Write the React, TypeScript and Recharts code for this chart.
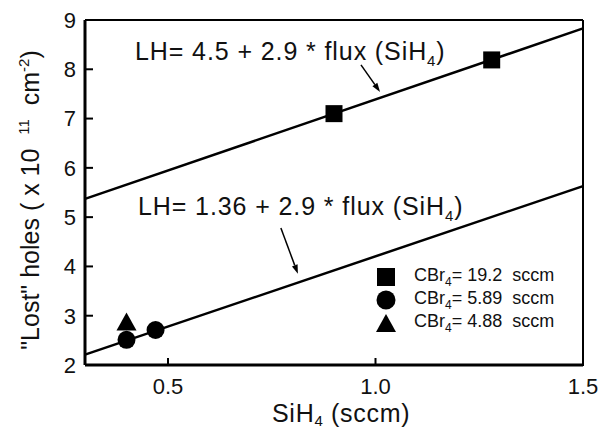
import React from "react";
import {
  ComposedChart,
  XAxis,
  YAxis,
  Scatter,
  ReferenceLine,
} from "recharts";

// measured points
const squareX = [0.9, 1.28];
const squareY = [7.1, 8.19];
const circleX = [0.4, 0.47];
const circleY = [2.51, 2.71];
const triangleX = [0.4];
const triangleY = [2.86];

// fit lines  LH = a + 2.9 * flux
const fitX = [0.3, 1.5];
const fitHigh = [5.37, 8.83];
const fitLow = [2.21, 5.63];

// annotation arrows (tail, head)
const arrowHighX = [0.965, 1.011];
const arrowHighY = [8.09, 7.54];
const arrowLowX = [0.772, 0.813];
const arrowLowY = [4.78, 3.85];

const xTicks = [0.5, 1.0, 1.5];
const yTicks = [2, 3, 4, 5, 6, 7, 8, 9];

const legendLabels = ["19.2", "5.89", "4.88"];

const FONT = "Liberation Sans, Arial, sans-serif";

const toPoints = (xs: number[], ys: number[]) =>
  xs.map((x, i) => ({ x, y: ys[i] }));

const SquareShape = (p: any) => (
  <rect x={p.cx - 8.5} y={p.cy - 8.5} width={17} height={17} fill="#000" />
);
const CircleShape = (p: any) => <circle cx={p.cx} cy={p.cy} r={9} fill="#000" />;
const TriangleShape = (p: any) => (
  <polygon
    points={`${p.cx - 10},${p.cy + 8} ${p.cx + 10},${p.cy + 8} ${p.cx},${p.cy - 10}`}
    fill="#000"
  />
);

const Arrow = (p: any) => {
  const { x1, y1, x2, y2 } = p;
  const a = Math.atan2(y2 - y1, x2 - x1);
  const L = 9;
  const w = 3;
  const bx = x2 - L * Math.cos(a);
  const by = y2 - L * Math.sin(a);
  const nx = -Math.sin(a) * w;
  const ny = Math.cos(a) * w;
  return (
    <g>
      <line x1={x1} y1={y1} x2={bx} y2={by} stroke="#000" strokeWidth={1.5} />
      <polygon
        points={`${x2},${y2} ${bx + nx},${by + ny} ${bx - nx},${by - ny}`}
        fill="#000"
      />
    </g>
  );
};

const YTick = (p: any) => {
  const { x, y, payload } = p;
  return (
    <g>
      <line x1={x + 9} y1={y} x2={x + 17} y2={y} stroke="#000" strokeWidth={2} />
      <text
        x={x}
        y={y}
        dy="0.36em"
        textAnchor="end"
        fontSize={22}
        fontFamily={FONT}
        fill="#111"
      >
        {payload.value}
      </text>
    </g>
  );
};

const XTick = (p: any) => {
  const { x, y, payload } = p;
  return (
    <g>
      <line x1={x} y1={y - 12} x2={x} y2={y - 20} stroke="#000" strokeWidth={2} />
      <text
        x={x}
        y={y}
        dy="0.71em"
        textAnchor="middle"
        fontSize={22}
        fontFamily={FONT}
        fill="#111"
      >
        {Number(payload.value).toFixed(1)}
      </text>
    </g>
  );
};

const LegendIcon = ({ kind }: { kind: number }) => (
  <svg width={22} height={22} style={{ display: "block" }}>
    {kind === 0 && <rect x={2} y={2} width={18} height={18} fill="#000" />}
    {kind === 1 && <circle cx={11} cy={11} r={9.5} fill="#000" />}
    {kind === 2 && <polygon points="1,20 21,20 11,2" fill="#000" />}
  </svg>
);

const sub = { fontSize: 15, verticalAlign: -6 } as const;
const sup = { fontSize: 15, verticalAlign: 10 } as const;

export default function App() {
  return (
    <div
      style={{
        position: "absolute",
        left: 0,
        top: 0,
        width: 603,
        height: 428,
        background: "#fff",
        fontFamily: FONT,
        overflow: "hidden",
      }}
    >
      <ComposedChart
        width={603}
        height={428}
        margin={{ top: 20, right: 20, bottom: 0, left: 0 }}
      >
        <XAxis
          type="number"
          dataKey="x"
          domain={[0.3, 1.5]}
          ticks={xTicks}
          allowDataOverflow
          height={63}
          tickSize={0}
          tickMargin={13}
          tick={<XTick />}
          axisLine={{ stroke: "#000", strokeWidth: 3 }}
          tickLine={false}
        />
        <YAxis
          type="number"
          dataKey="y"
          domain={[2, 9]}
          ticks={yTicks}
          allowDataOverflow
          width={85}
          tickSize={0}
          tickMargin={9}
          tick={<YTick />}
          axisLine={{ stroke: "#000", strokeWidth: 3 }}
          tickLine={false}
        />
        <ReferenceLine y={9} stroke="#000" strokeWidth={2} />
        <ReferenceLine x={1.5} stroke="#000" strokeWidth={2} />
        <ReferenceLine
          segment={toPoints(fitX, fitHigh)}
          stroke="#000"
          strokeWidth={2.5}
        />
        <ReferenceLine
          segment={toPoints(fitX, fitLow)}
          stroke="#000"
          strokeWidth={2.5}
        />
        <ReferenceLine segment={toPoints(arrowHighX, arrowHighY)} shape={Arrow} />
        <ReferenceLine segment={toPoints(arrowLowX, arrowLowY)} shape={Arrow} />
        <Scatter
          name="19.2"
          data={toPoints(squareX, squareY)}
          shape={SquareShape}
          isAnimationActive={false}
        />
        <Scatter
          name="5.89"
          data={toPoints(circleX, circleY)}
          shape={CircleShape}
          isAnimationActive={false}
        />
        <Scatter
          name="4.88"
          data={toPoints(triangleX, triangleY)}
          shape={TriangleShape}
          isAnimationActive={false}
        />
      </ComposedChart>

      {/* legend */}
      <div
        style={{
          position: "absolute",
          left: 375,
          top: 265,
          fontSize: 18,
          color: "#111",
        }}
      >
        {legendLabels.map((v, i) => (
          <div
            key={v}
            style={{ display: "flex", alignItems: "center", height: 23 }}
          >
            <LegendIcon kind={i} />
            <span style={{ marginLeft: 17, whiteSpace: "pre" }}>
              CBr<span style={{ fontSize: 12, verticalAlign: -5 }}>4</span>= {v}  sccm
            </span>
          </div>
        ))}
      </div>

      {/* equations */}
      <div
        style={{
          position: "absolute",
          left: 135,
          top: 37,
          fontSize: 25,
          letterSpacing: 0.9,
          whiteSpace: "pre",
          color: "#111",
        }}
      >
        LH= 4.5 + 2.9 * flux (SiH<span style={sub}>4</span>)
      </div>
      <div
        style={{
          position: "absolute",
          left: 138,
          top: 192,
          fontSize: 25,
          letterSpacing: 0.9,
          whiteSpace: "pre",
          color: "#111",
        }}
      >
        LH= 1.36 + 2.9 * flux (SiH<span style={sub}>4</span>)
      </div>

      {/* axis titles */}
      <div
        style={{
          position: "absolute",
          left: 272,
          top: 401,
          fontSize: 25,
          letterSpacing: 0.7,
          lineHeight: "25px",
          whiteSpace: "pre",
          color: "#111",
        }}
      >
        SiH<span style={{ fontSize: 15, verticalAlign: -4 }}>4</span> (sccm)
      </div>
      <div
        style={{
          position: "absolute",
          left: 30,
          top: 200,
          transform: "translate(-50%, -50%) rotate(-90deg)",
          fontSize: 25,
          whiteSpace: "pre",
          color: "#111",
        }}
      >
        "Lost" holes ( x 10  <span style={sup}>11</span>  cm
        <span style={sup}>-2</span>)
      </div>
    </div>
  );
}
